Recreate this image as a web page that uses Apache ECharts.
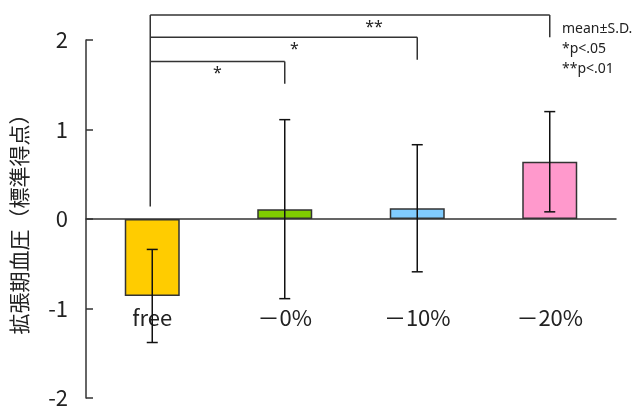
<!DOCTYPE html>
<html>
<head>
<meta charset="utf-8">
<script src="https://cdn.jsdelivr.net/npm/echarts@6/dist/echarts.min.js"></script>
<style>
  html, body { margin: 0; padding: 0; background: #fff; }
  #chart { width: 643px; height: 411px; }
</style>
</head>
<body>
<div id="chart"></div>
<script>
// Diastolic blood pressure (standard score), mean ± S.D. per group
const categories = ['free', '－0%', '－10%', '－20%'];
const means = [-0.86, 0.11, 0.12, 0.64];
const sds = [0.52, 1.0, 0.71, 0.56];
const barColors = ['#ffcc00', '#80cc00', '#80ccff', '#ff99cc'];
const yTicks = [-2, -1, 0, 1, 2];

// Significance brackets: compared against the "free" group
const bracketFrom = [0, 0, 0];
const bracketTo = [1, 2, 3];
const bracketLevel = [1.76, 2.03, 2.28];
const bracketMarks = ['*', '*', '**'];
const bracketMarkPos = [0.5, 0.54, 0.56];
const bracketStemBottom = 0.14;

const notes = ['mean±S.D.', '*p<.05', '**p<.01'];

// category names sit inside the plot, at this value on the y scale
const CATEGORY_LABEL_Y = -1.1;

const FONT = '"Noto Sans CJK JP", "Noto Sans", sans-serif';
const LATIN = '"Noto Sans", "DejaVu Sans", sans-serif';
const INK = '#222';
const LINE = '#333';

const chart = echarts.init(document.getElementById('chart'), null, { renderer: 'canvas' });

const barData = means.map((v, i) => ({
  value: v,
  itemStyle: { color: barColors[i] }
}));

const errData = means.map((m, i) => [i, m + sds[i], m - sds[i]]);
const bracketData = bracketFrom.map((f, i) => [f, bracketTo[i], bracketLevel[i], i]);
const labelData = categories.map((c, i) => [i, CATEGORY_LABEL_Y]);

chart.setOption({
  animation: false,
  backgroundColor: '#fff',
  grid: { left: 86, right: 27, top: 40, bottom: 13, containLabel: false, outerBoundsMode: 'none' },
  xAxis: {
    type: 'category',
    data: categories,
    axisLine: { onZero: true, lineStyle: { color: LINE, width: 1.5 } },
    axisTick: { inside: true, length: 7, lineStyle: { color: LINE, width: 1.5 } },
    axisLabel: { show: false }
  },
  yAxis: {
    type: 'value',
    min: yTicks[0],
    max: yTicks[yTicks.length - 1],
    interval: 1,
    name: '拡張期血圧（標準得点）',
    nameLocation: 'middle',
    nameGap: 56,
    nameRotate: 90,
    nameTextStyle: { fontSize: 21, color: INK, fontFamily: FONT },
    axisLine: { show: true, lineStyle: { color: LINE, width: 1.5 } },
    axisTick: { show: true, inside: true, length: 7, lineStyle: { color: LINE, width: 1.5 } },
    axisLabel: { margin: 18, fontSize: 22, color: INK, fontFamily: FONT },
    splitLine: { show: false }
  },
  series: [
    {
      type: 'bar',
      data: barData,
      barWidth: 55,
      itemStyle: { borderColor: LINE, borderWidth: 1.5 },
      z: 2
    },
    {
      // category names
      type: 'custom',
      data: labelData,
      encode: { x: 0, y: 1 },
      z: 3,
      renderItem: function (params, api) {
        const p = api.coord([api.value(0), api.value(1)]);
        return {
          type: 'text',
          style: {
            x: p[0],
            y: p[1],
            text: categories[params.dataIndex],
            fill: INK,
            font: '22px ' + FONT,
            textAlign: 'center',
            textVerticalAlign: 'middle'
          }
        };
      }
    },
    {
      // error bars (mean ± S.D.)
      type: 'custom',
      data: errData,
      encode: { x: 0, y: [1, 2] },
      z: 4,
      renderItem: function (params, api) {
        const x = api.value(0);
        const top = api.coord([x, api.value(1)]);
        const bot = api.coord([x, api.value(2)]);
        const half = 5.5;
        const style = { stroke: '#111', lineWidth: 1.5 };
        return {
          type: 'group',
          children: [
            { type: 'line', shape: { x1: top[0], y1: top[1], x2: bot[0], y2: bot[1] }, style },
            { type: 'line', shape: { x1: top[0] - half, y1: top[1], x2: top[0] + half, y2: top[1] }, style },
            { type: 'line', shape: { x1: bot[0] - half, y1: bot[1], x2: bot[0] + half, y2: bot[1] }, style }
          ]
        };
      }
    },
    {
      // significance brackets
      type: 'custom',
      data: bracketData,
      encode: { x: [0, 1], y: 2 },
      clip: false,
      z: 5,
      renderItem: function (params, api) {
        const from = api.value(0);
        const to = api.value(1);
        const level = api.value(2);
        const idx = api.value(3);
        const style = { stroke: LINE, lineWidth: 1.5 };
        const a = api.coord([from, level]);
        const b = api.coord([to, level]);
        const bDrop = api.coord([to, level - 0.25]);
        const stemX = a[0] - 2;
        const children = [
          { type: 'line', shape: { x1: stemX, y1: a[1], x2: b[0], y2: b[1] }, style },
          { type: 'line', shape: { x1: b[0], y1: b[1], x2: b[0], y2: bDrop[1] }, style }
        ];
        if (idx === bracketData.length - 1) {
          const stemBot = api.coord([from, bracketStemBottom]);
          children.push({ type: 'line', shape: { x1: stemX, y1: a[1], x2: stemX, y2: stemBot[1] }, style });
        }
        const t = bracketMarkPos[idx];
        children.push({
          type: 'text',
          style: {
            x: stemX + (b[0] - stemX) * t,
            y: a[1] + 4,
            text: bracketMarks[idx],
            fill: INK,
            font: '16px ' + LATIN,
            textAlign: 'center',
            textVerticalAlign: 'top'
          }
        });
        return { type: 'group', children };
      }
    }
  ],
  graphic: notes.map((t, i) => ({
    type: 'text',
    left: 562,
    top: 22 + i * 20,
    style: { text: t, fill: INK, font: '14px ' + LATIN }
  }))
});
</script>
</body>
</html>
